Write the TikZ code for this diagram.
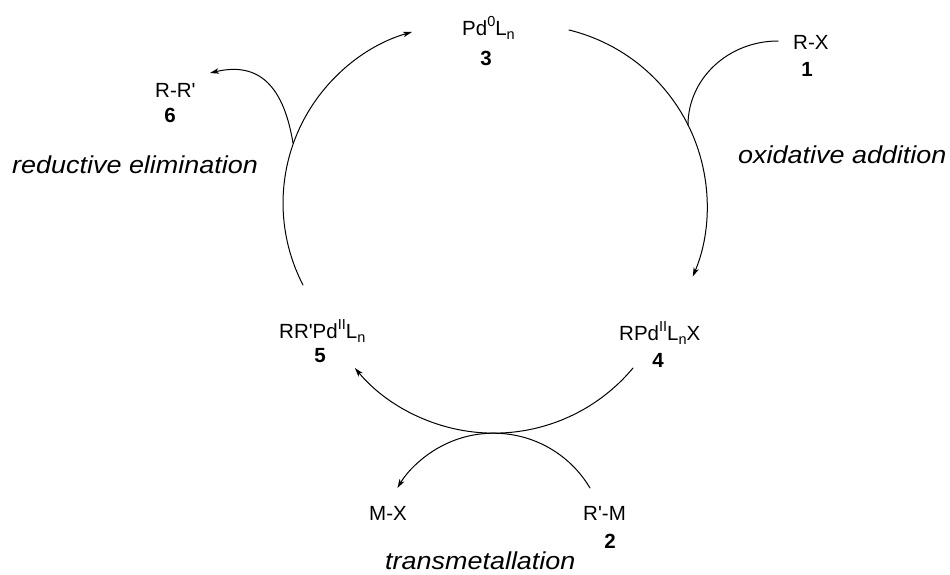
\documentclass[tikz,border=0pt]{standalone}
\usepackage{fontspec}
\setmainfont{Liberation Sans}
\usetikzlibrary{arrows.meta}
\newcommand\supx[1]{\raisebox{0.40em}{\fontsize{14.5}{14.5}\selectfont #1}}
\newcommand\subx[1]{\raisebox{-0.22em}{\fontsize{14.5}{14.5}\selectfont #1}}
\newcommand\steptext[1]{\scalebox{1.1}[1]{#1}}
\newcommand\pr{\textquotesingle}
\begin{document}
\begin{tikzpicture}[x=1pt,y=1pt,
  chem/.style={inner sep=0pt, anchor=base west, font=\fontsize{20.5}{24}\selectfont},
  num/.style={inner sep=0pt, anchor=base, font=\fontsize{20.5}{24}\selectfont\bfseries},
  stepname/.style={inner sep=0pt, anchor=base west, font=\fontsize{24.5}{28}\selectfont\itshape},
  arcline/.style={line width=1pt, line cap=round},
  arr/.style={arcline, -{Stealth[length=9pt,width=5.5pt,inset=2.5pt]}}]
\fill[white] (0,0) rectangle (950,-574);
\useasboundingbox (0,0) rectangle (950,-574);

% species
\node[chem] (pd0) at (462,-35) {Pd\supx{0}L\subx{n}};
\node[num]  (n3)  at (486,-65) {3};
\node[chem] (rx)  at (793,-49) {R-X};
\node[num]  (n1)  at (807,-76) {1};
\node[chem] (rr)  at (155,-97) {R-R\pr};
\node[num]  (n6)  at (170,-122) {6};
\node[chem] (pd5) at (279,-338) {RR\pr Pd\supx{II}L\subx{n}};
\node[num]  (n5)  at (320,-362) {5};
\node[chem] (pd4) at (619,-340) {RPd\supx{II}L\subx{n}X};
\node[num]  (n4)  at (658,-367) {4};
\node[chem] (mx)  at (369,-520) {M-X};
\node[chem] (rm)  at (583,-520) {R\pr-M};
\node[num]  (n2)  at (610,-548) {2};

% step names
\node[stepname] (oa) at (738,-163) {\steptext{oxidative addition}};
\node[stepname] (re) at (12,-173) {\steptext{reductive elimination}};
\node[stepname] (tm) at (385,-569) {\steptext{transmetallation}};

% connector end points
\coordinate (c3a) at (569,-30);
\coordinate (c4a) at (633,-368);
\coordinate (c5a) at (303,-285);
\coordinate (c1a) at (778,-41);
\coordinate (c2a) at (590,-488);
\coordinate (c6a) at (293,-143);
\coordinate (c6b) at (210,-73);

% catalytic cycle
\draw[arr] (c3a) arc[start angle=76.3, end angle=-23, radius=181];
\draw[arr] (c4a) arc[start angle=-39.8, end angle=-140.2, radius=181];
\draw[arr] (c5a) arc[start angle=207.4, end angle=106, radius=178];

% side arrows
\draw[arcline] (c1a) arc[start angle=90, end angle=180, x radius=90, y radius=84];
\draw[arr] (c2a) arc[start angle=30.7, end angle=149.3, radius=112];
\draw[arr] (c6a) .. controls (285,-95) and (265,-60) .. (c6b);
\end{tikzpicture}
\end{document}
